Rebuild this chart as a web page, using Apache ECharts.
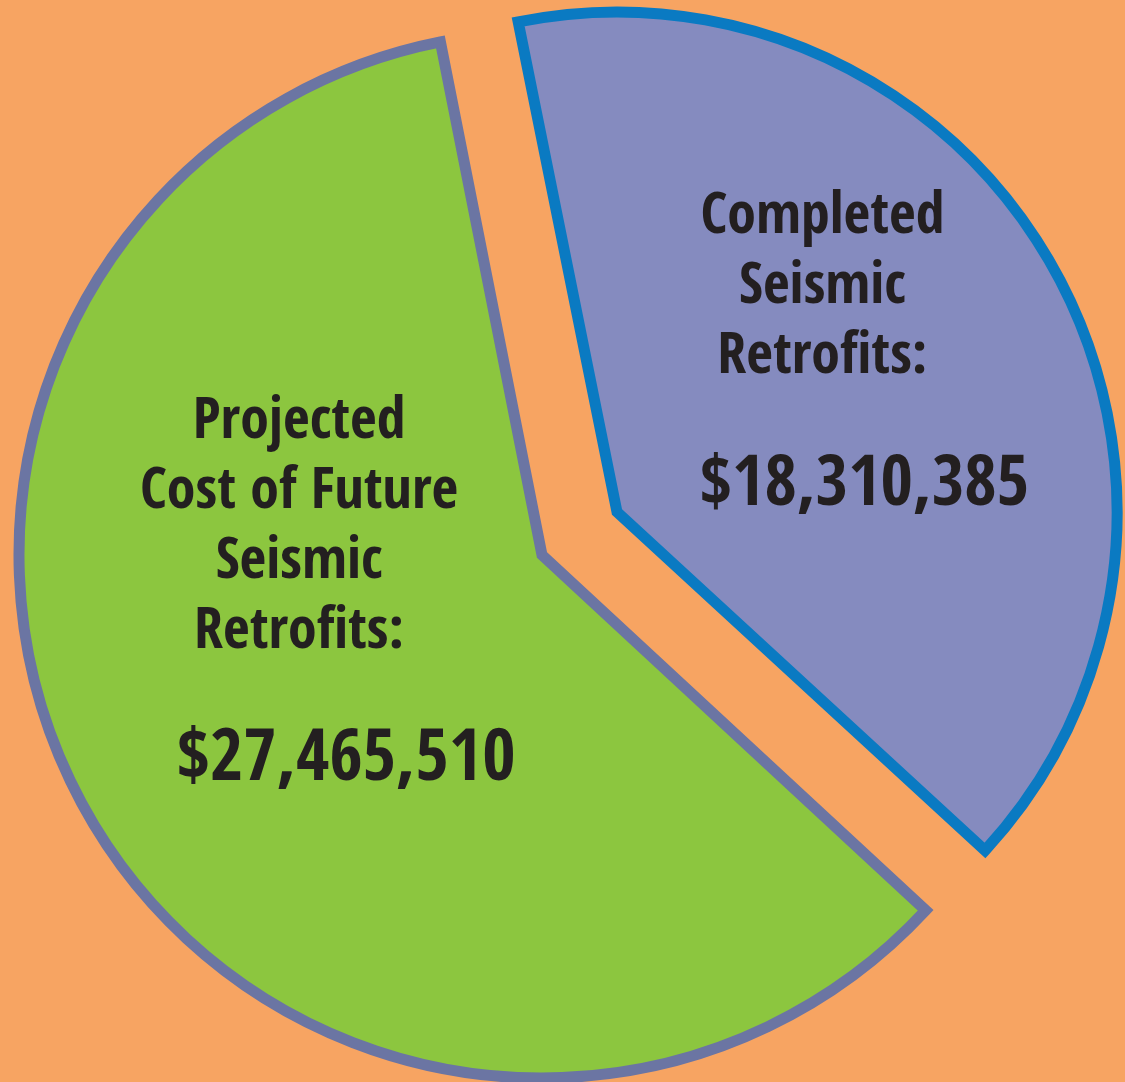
<!DOCTYPE html>
<html>
<head>
<meta charset="utf-8">
<script src="https://cdn.jsdelivr.net/npm/echarts@6/dist/echarts.min.js"></script>
<style>
  html, body { margin: 0; padding: 0; background: #F7A462; }
  #chart { width: 1125px; height: 1082px; }
</style>
</head>
<body>
<div id="chart"></div>
<script>
const categories = ['Completed', 'Projected']
const titleLines = [
  ['Completed', 'Seismic', 'Retrofits:'],
  ['Projected', 'Cost of Future', 'Seismic', 'Retrofits:'],
]
const values = [18310385, 27465510]

const FONT = "'Open Sans Condensed', 'Roboto Condensed', sans-serif"
const COLORS = {
  bg: '#F7A462',
  completed: '#858BBF',
  completedBorder: '#0A7AC2',
  projected: '#8CC63F',
  projectedBorder: '#6B75A3',
  text: '#231F20',
}

const fmtDollar = (v) => '$' + v.toLocaleString('en-US')

const hidden = {
  itemStyle: { color: 'rgba(0,0,0,0)', borderWidth: 0 },
  label: { show: false },
}

function makeLabel(idx, pad, valueSize, valuePadLeft) {
  return {
    show: true,
    position: 'inside',
    color: COLORS.text,
    fontFamily: FONT,
    fontWeight: 'bold',
    padding: pad,
    formatter: () =>
      titleLines[idx].map((s) => `{t|${s}}`).join('\n') + `\n{v|${fmtDollar(values[idx])}}`,
    rich: {
      t: { fontSize: 58, lineHeight: 70, fontFamily: FONT, fontWeight: 'bold', color: COLORS.text },
      v: {
        fontSize: valueSize, lineHeight: 186, fontFamily: FONT, fontWeight: 'bold', color: COLORS.text,
        padding: [0, 0, 0, valuePadLeft],
      },
    },
  }
}

const sliceStyle = (color, border) => ({
  color,
  borderColor: border,
  borderWidth: 11,
  borderJoin: 'miter',
  borderMiterLimit: 20,
})

const chart = echarts.init(document.getElementById('chart'))

chart.setOption({
  backgroundColor: COLORS.bg,
  animation: false,
  tooltip: { show: false },
  series: [
    {
      // projected (big slice)
      type: 'pie',
      center: [542, 555],
      radius: [0, 523],
      startAngle: 101.2,
      clockwise: true,
      silent: true,
      emphasis: { disabled: true },
      labelLine: { show: false },
      data: [
        { name: categories[0], value: values[0], ...hidden },
        {
          name: categories[1],
          value: values[1],
          itemStyle: sliceStyle(COLORS.projected, COLORS.projectedBorder),
          label: makeLabel(1, [0, 24, 126, 0], 72, 94),
        },
      ],
    },
    {
      // completed (pulled-out slice)
      type: 'pie',
      center: [617, 512],
      radius: [0, 500],
      startAngle: 101.4,
      clockwise: true,
      silent: true,
      emphasis: { disabled: true },
      labelLine: { show: false },
      data: [
        {
          name: categories[0],
          value: values[0],
          itemStyle: sliceStyle(COLORS.completed, COLORS.completedBorder),
          label: makeLabel(0, [0, 30, 13, 0], 70, 84),
        },
        { name: categories[1], value: values[1], ...hidden },
      ],
    },
  ],
})
</script>
</body>
</html>
